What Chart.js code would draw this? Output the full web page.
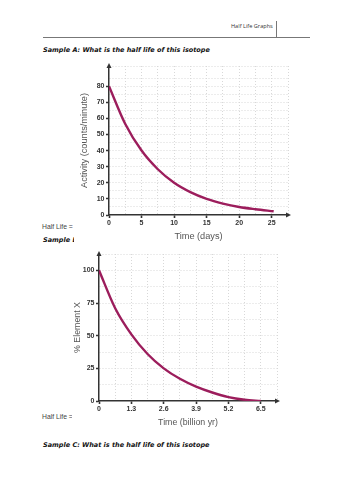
<!DOCTYPE html>
<html lang="en">
<head>
    <meta charset="UTF-8">
    <title>Half Life Graphs</title>
    <script src="https://cdn.jsdelivr.net/npm/chart.js"></script>
    <style>
        body {
            margin: 0;
            padding: 0;
            background: #fff;
            width: 353px;
            height: 500px;
            position: relative;
            overflow: hidden;
        }

        .txt {
            position: absolute;
            white-space: nowrap;
            line-height: 1;
        }

        .header {
            left: 231px;
            top: 24px;
            font-family: "Open Sans", sans-serif;
            font-size: 5.6px;
            color: #333;
        }

        .vline {
            position: absolute;
            left: 276px;
            top: 21px;
            width: 1px;
            height: 17px;
            background: #777;
        }

        .hline {
            position: absolute;
            left: 43px;
            top: 37px;
            width: 267px;
            height: 1px;
            background: #777;
        }

        .sample {
            left: 43px;
            font-family: "DejaVu Sans", sans-serif;
            font-weight: bold;
            font-style: italic;
            font-size: 6.5px;
            color: #111;
        }

        .halflife {
            left: 42px;
            font-family: "Liberation Sans", sans-serif;
            font-size: 6.8px;
            color: #444;
        }

        .chart-box {
            position: absolute;
            background: #fff;
        }
    </style>
</head>
<body>
    <div class="txt header">Half Life Graphs</div>
    <div class="vline"></div>
    <div class="hline"></div>

    <div class="txt sample" style="top: 47px;">Sample A: What is the half life of this isotope</div>
    <div class="txt halflife" style="top: 224px;">Half Life =</div>
    <div class="txt sample" style="top: 237px;">Sample B: What is the half life of this isotope</div>
    <div class="txt halflife" style="top: 414px;">Half Life =</div>
    <div class="txt sample" style="top: 442px;">Sample C: What is the half life of this isotope</div>

    <div class="chart-box" style="left: 74px; top: 58px; width: 222px; height: 188px;">
        <canvas id="chartA" width="222" height="188"></canvas>
    </div>
    <div class="chart-box" style="left: 72px; top: 248px; width: 218px; height: 180px;">
        <canvas id="chartB" width="218" height="180"></canvas>
    </div>

    <script>
        // Sample A - activity vs time
        const daysA = [0, 2.5, 5, 7.5, 10, 12.5, 15, 17.5, 20, 22.5, 25.3];
        const activityA = [80, 56.5, 40, 28.4, 20, 14.2, 10, 7.1, 5, 3.6, 2.3];
        const xTicksA = ["0", "5", "10", "15", "20", "25"];
        const yTicksA = ["0", "10", "20", "30", "40", "50", "60", "70", "80"];

        // Sample B - % element X vs time
        const timeB = [0, 0.65, 1.3, 1.95, 2.6, 3.25, 3.9, 4.55, 5.2, 5.85, 6.5];
        const percentB = [100, 71, 51, 36, 25, 17, 11, 6.5, 3, 1, 0];
        const xTicksB = ["0", "1.3", "2.6", "3.9", "5.2", "6.5"];
        const yTicksB = ["0", "25", "50", "75", "100"];

        const LINE = "#9c1d5c";
        const AXIS = "#333";
        const GRID = "#d8d8d8";

        // draws the arrow heads at the end of each axis
        const arrows = {
            id: "arrows",
            afterDraw(chart) {
                const { ctx, chartArea: a } = chart;
                ctx.save();
                ctx.fillStyle = AXIS;
                ctx.beginPath();
                ctx.moveTo(a.right + 3, a.bottom);
                ctx.lineTo(a.right - 2, a.bottom - 2.5);
                ctx.lineTo(a.right - 2, a.bottom + 2.5);
                ctx.closePath();
                ctx.fill();
                ctx.beginPath();
                ctx.moveTo(a.left, a.top - 3);
                ctx.lineTo(a.left - 2.5, a.top + 2);
                ctx.lineTo(a.left + 2.5, a.top + 2);
                ctx.closePath();
                ctx.fill();
                ctx.restore();
            }
        };

        // every second grid line carries a label
        function tickLabel(labels) {
            return (value, index) => index % 2 === 0 && labels[index / 2] !== undefined ? labels[index / 2] : "";
        }

        function makeChart(id, xs, ys, opt) {
            const points = xs.map((x, i) => ({ x: x, y: ys[i] }));
            const labelled = (ctx, labels) => ctx.index % 2 === 0 && labels[ctx.index / 2] !== undefined;
            return new Chart(document.getElementById(id), {
                type: "line",
                data: {
                    datasets: [{
                        data: points,
                        borderColor: LINE,
                        borderWidth: 2.4,
                        pointRadius: 0,
                        cubicInterpolationMode: "monotone",
                        fill: false
                    }]
                },
                options: {
                    responsive: false,
                    animation: false,
                    devicePixelRatio: 1,
                    layout: { padding: { top: opt.padTop, right: opt.padRight, left: 0, bottom: 0 } },
                    plugins: { legend: { display: false }, tooltip: { enabled: false } },
                    scales: {
                        x: {
                            type: "linear",
                            min: 0,
                            max: opt.xMax,
                            afterFit: s => { s.height = opt.xHeight; },
                            ticks: {
                                stepSize: opt.xStep,
                                autoSkip: false,
                                maxRotation: 0,
                                padding: 1,
                                color: AXIS,
                                font: { family: "Liberation Sans", size: 7, weight: "bold" },
                                callback: tickLabel(opt.xLabels)
                            },
                            grid: {
                                color: ctx => ctx.index === 0 ? "transparent" : GRID,
                                lineWidth: 1,
                                tickLength: 3,
                                tickWidth: 1.6,
                                tickColor: ctx => labelled(ctx, opt.xLabels) ? AXIS : "transparent"
                            },
                            border: { color: AXIS, width: 1.5, dash: [1, 2] },
                            title: {
                                display: true,
                                text: opt.xTitle,
                                color: "#555",
                                font: { family: "Liberation Sans", size: opt.titleSize },
                                padding: { top: 0, bottom: opt.xTitlePad }
                            }
                        },
                        y: {
                            type: "linear",
                            min: 0,
                            max: opt.yMax,
                            afterFit: s => { s.width = opt.yWidth; },
                            ticks: {
                                stepSize: opt.yStep,
                                autoSkip: false,
                                padding: 1.5,
                                color: AXIS,
                                font: { family: "Liberation Sans", size: 7, weight: "bold" },
                                callback: tickLabel(opt.yLabels)
                            },
                            grid: {
                                color: ctx => ctx.index === 0 ? "transparent" : GRID,
                                lineWidth: 1,
                                tickLength: 3,
                                tickWidth: 1.6,
                                tickColor: ctx => labelled(ctx, opt.yLabels) ? AXIS : "transparent"
                            },
                            border: { color: AXIS, width: 1.5, dash: [1, 2] },
                            title: {
                                display: true,
                                text: opt.yTitle,
                                color: "#555",
                                font: { family: "Liberation Sans", size: opt.titleSize },
                                padding: { top: opt.yTitlePad, bottom: 0 }
                            }
                        }
                    }
                },
                plugins: [arrows]
            });
        }

        makeChart("chartA", daysA, activityA, {
            xMax: 27.5, xStep: 2.5, xLabels: xTicksA, xTitle: "Time (days)",
            yMax: 92.5, yStep: 5, yLabels: yTicksA, yTitle: "Activity (counts/minute)",
            padTop: 8, padRight: 8, yWidth: 35, xHeight: 31,
            titleSize: 9.2, xTitlePad: 4, yTitlePad: 4.5
        });

        makeChart("chartB", timeB, percentB, {
            xMax: 7.15, xStep: 0.65, xLabels: xTicksB, xTitle: "Time (billion yr)",
            yMax: 112.5, yStep: 12.5, yLabels: yTicksB, yTitle: "% Element X",
            padTop: 6, padRight: 13, yWidth: 27, xHeight: 27,
            titleSize: 8.8, xTitlePad: 0.5, yTitlePad: 0
        });
    </script>
</body>
</html>
